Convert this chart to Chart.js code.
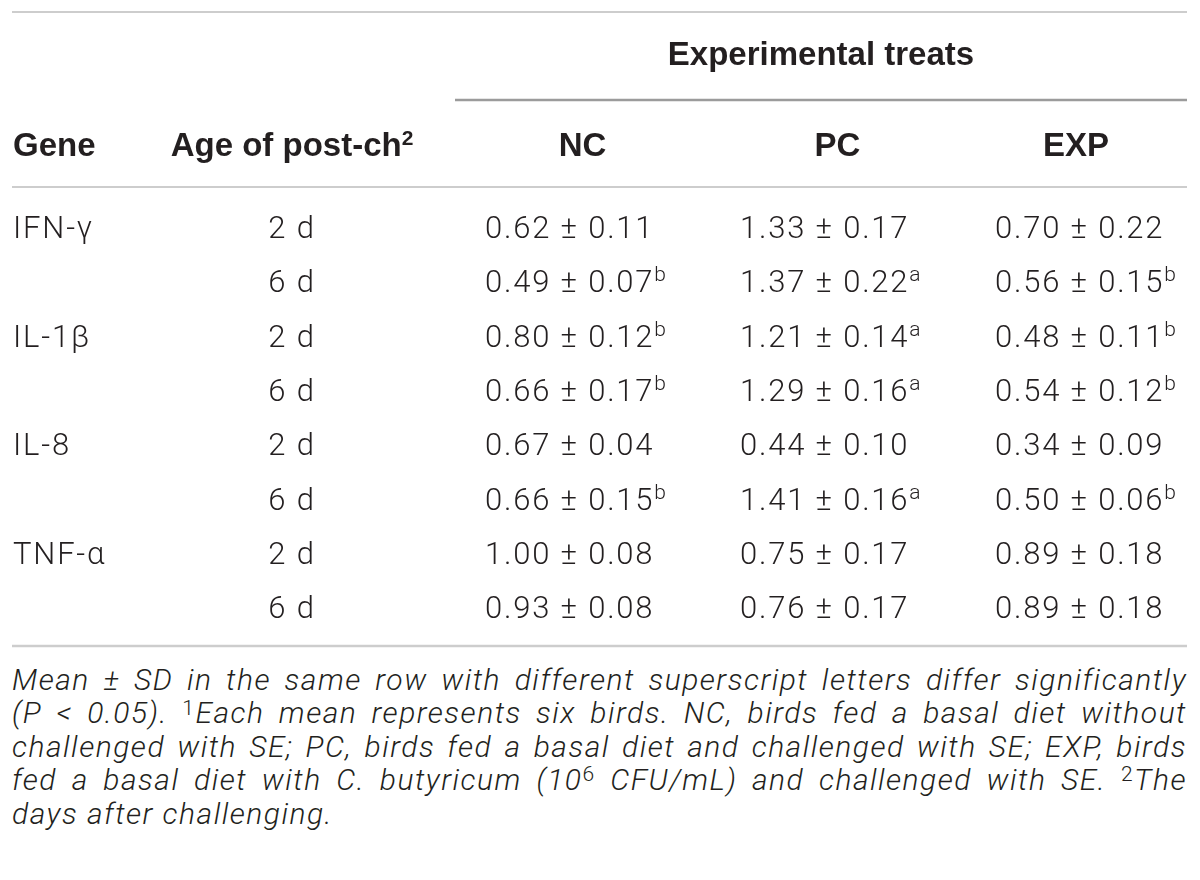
<!DOCTYPE html>
<html>
<head>
<meta charset="utf-8">
<script src="https://cdn.jsdelivr.net/npm/chart.js@4.4.1/dist/chart.umd.min.js"></script>
<style>
    body { margin: 0; background: #fff; }
    #wrap { position: relative; width: 1200px; height: 880px; overflow: hidden; }
    #tablaGenes { position: absolute; left: 0; top: 0; }
    .nota { position: absolute; left: 12px; top: 663px; width: 1175px;
            font-family: Roboto, 'Liberation Sans', sans-serif; font-weight: 300; font-style: italic;
            font-size: 30px; line-height: 33.4px; letter-spacing: 1.5px; color: #231f20; }
    .nota div { text-align: justify; text-align-last: justify; white-space: nowrap; }
    .nota div.ultima { text-align-last: left; }
    .nota sup { font-size: 0.7em; font-style: normal; position: relative; top: -0.42em; vertical-align: baseline; line-height: 0; }
</style>
</head>
<body>
<div id="wrap">
<canvas id="tablaGenes" width="1200" height="650"></canvas>
<div class="nota">
    <div>Mean ± SD in the same row with different superscript letters differ significantly</div>
    <div>(P &lt; 0.05). <sup>1</sup>Each mean represents six birds. NC, birds fed a basal diet without</div>
    <div>challenged with SE; PC, birds fed a basal diet and challenged with SE; EXP, birds</div>
    <div>fed a basal diet with C. butyricum (10<sup>6</sup> CFU/mL) and challenged with SE. <sup>2</sup>The</div>
    <div class="ultima">days after challenging.</div>
</div>
</div>

<script>
    // Datos de la tabla
    const genes = ['IFN-γ', 'IL-1β', 'IL-8', 'TNF-α'];
    const ages = ['2 d', '6 d'];
    const treatments = ['NC', 'PC', 'EXP'];
    const groupTitle = 'Experimental treats';
    const colTitles = ['Gene', 'Age of post-ch'];

    const ncMean = [0.62, 0.49, 0.80, 0.66, 0.67, 0.66, 1.00, 0.93];
    const ncSd   = [0.11, 0.07, 0.12, 0.17, 0.04, 0.15, 0.08, 0.08];
    const ncSup  = ['', 'b', 'b', 'b', '', 'b', '', ''];

    const pcMean = [1.33, 1.37, 1.21, 1.29, 0.44, 1.41, 0.75, 0.76];
    const pcSd   = [0.17, 0.22, 0.14, 0.16, 0.10, 0.16, 0.17, 0.17];
    const pcSup  = ['', 'a', 'a', 'a', '', 'a', '', ''];

    const expMean = [0.70, 0.56, 0.48, 0.54, 0.34, 0.50, 0.89, 0.89];
    const expSd   = [0.22, 0.15, 0.11, 0.12, 0.09, 0.06, 0.18, 0.18];
    const expSup  = ['', 'b', 'b', 'b', '', 'b', '', ''];

    // Layout (unidades de la escala x = ancho de la tabla, escala y = filas)
    const geneX = 1;
    const ageX = 280;
    const treatLeft = [443, 698, 953];
    const treatRight = 1175;
    const valuePad = 30;
    const headerRow = -1.52;
    const groupRow = -3.2;
    const groupRuleRow = -2.34;
    const topRuleRow = -3.96;

    const ink = '#231f20';
    const bodyStyle = { font: "300 31px Roboto, 'Liberation Sans', sans-serif",
                        sup: "300 21px Roboto, 'Liberation Sans', sans-serif",
                        size: 31, spacing: '1.8px', raise: 0.36 };
    const headStyle = { font: "bold 33px 'Liberation Sans', Arial, sans-serif",
                        sup: "bold 21px 'Liberation Sans', Arial, sans-serif",
                        size: 33, spacing: '0px', raise: 0.34 };

    const nRows = genes.length * ages.length;
    const means = [ncMean, pcMean, expMean];
    const sds = [ncSd, pcSd, expSd];
    const sups = [ncSup, pcSup, expSup];

    function colCenter(t) {
        const right = t < treatLeft.length - 1 ? treatLeft[t + 1] : treatRight;
        return (treatLeft[t] + right) / 2;
    }

    // dibuja texto con superindice opcional; y = centro de las cifras
    function drawCell(ctx, txt, sup, x, y, align, st) {
        ctx.letterSpacing = st.spacing;
        ctx.font = st.font;
        const w = ctx.measureText(txt).width;
        ctx.font = st.sup;
        const ws = sup ? ctx.measureText(sup).width : 0;
        let x0 = x;
        if (align === 'center') x0 = x - (w + ws) / 2;
        const base = y + st.size * 0.36;
        ctx.textAlign = 'left';
        ctx.textBaseline = 'alphabetic';
        ctx.fillStyle = ink;
        ctx.font = st.font;
        ctx.fillText(txt, x0, base);
        if (sup) {
            ctx.font = st.sup;
            ctx.fillText(sup, x0 + w, base - st.size * st.raise);
        }
    }

    const tablaPlugin = {
        id: 'tablaPlugin',
        afterDatasetsDraw(chart) {
            const ctx = chart.ctx;
            const xs = chart.scales.x;
            const ys = chart.scales.y;
            const area = chart.chartArea;
            ctx.save();

            // lineas
            function rule(x1, x2, row, color, width) {
                const y = Math.round(ys.getPixelForValue(row));
                ctx.strokeStyle = color;
                ctx.lineWidth = width;
                ctx.beginPath();
                ctx.moveTo(x1, y);
                ctx.lineTo(x2, y);
                ctx.stroke();
            }
            rule(area.left, area.right, topRuleRow, '#cdcdcd', 2);
            rule(xs.getPixelForValue(treatLeft[0]), area.right, groupRuleRow, '#9b9b9b', 2.5);
            rule(area.left, area.right, ys.min, '#cdcdcd', 2);
            rule(area.left, area.right, ys.max, '#cdcdcd', 2.5);

            // encabezados
            drawCell(ctx, groupTitle, '', xs.getPixelForValue((treatLeft[0] + treatRight) / 2),
                ys.getPixelForValue(groupRow), 'center', headStyle);
            const hy = ys.getPixelForValue(headerRow);
            drawCell(ctx, colTitles[0], '', xs.getPixelForValue(geneX), hy, 'left', headStyle);
            drawCell(ctx, colTitles[1], '2', xs.getPixelForValue(ageX), hy, 'center', headStyle);
            treatments.forEach((t, i) => {
                drawCell(ctx, t, '', xs.getPixelForValue(colCenter(i)), hy, 'center', headStyle);
            });

            // celdas a partir de los puntos de cada dataset
            chart.data.datasets.forEach((ds, di) => {
                const meta = chart.getDatasetMeta(di);
                meta.data.forEach((pt, i) => {
                    const cell = ds.cells[i];
                    drawCell(ctx, cell.txt, cell.sup, pt.x, pt.y, ds.align, bodyStyle);
                });
            });
            ctx.restore();
        }
    };

    const rowIdx = Array.from({ length: nRows }, (_, i) => i);

    const datasets = [
        {
            label: colTitles[0],
            align: 'left',
            data: genes.map((g, i) => ({ x: geneX, y: i * ages.length })),
            cells: genes.map(g => ({ txt: g, sup: '' }))
        },
        {
            label: colTitles[1],
            align: 'center',
            data: rowIdx.map(i => ({ x: ageX, y: i })),
            cells: rowIdx.map(i => ({ txt: ages[i % ages.length], sup: '' }))
        }
    ];
    treatments.forEach((t, k) => {
        datasets.push({
            label: t,
            align: 'left',
            data: rowIdx.map(i => ({ x: treatLeft[k] + valuePad, y: i })),
            cells: rowIdx.map(i => ({
                txt: means[k][i].toFixed(2) + ' ± ' + sds[k][i].toFixed(2),
                sup: sups[k][i]
            }))
        });
    });
    datasets.forEach(ds => { ds.pointRadius = 0; ds.pointHoverRadius = 0; ds.showLine = false; });

    new Chart(document.getElementById('tablaGenes').getContext('2d'), {
        type: 'scatter',
        data: { datasets: datasets },
        options: {
            responsive: false,
            animation: false,
            events: [],
            layout: { padding: { left: 12, right: 13, top: 187, bottom: 4 } },
            plugins: { legend: { display: false }, tooltip: { enabled: false } },
            scales: {
                x: { type: 'linear', min: 0, max: 1175, display: false },
                y: { type: 'linear', min: -0.737, max: 7.716, reverse: true, display: false }
            }
        },
        plugins: [tablaPlugin]
    });
</script>
</body>
</html>
